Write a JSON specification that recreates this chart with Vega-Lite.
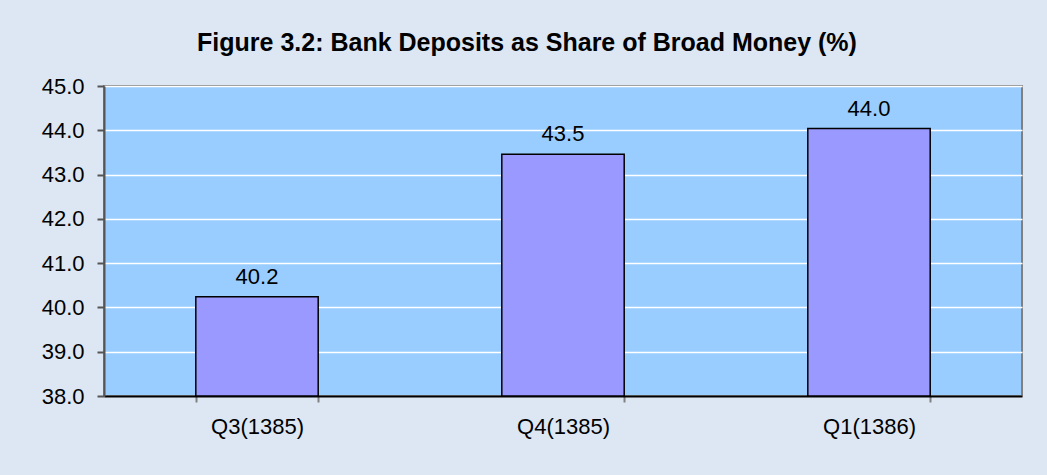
{
  "$schema": "https://vega.github.io/schema/vega-lite/v6.json",
  "autosize": {"type": "none"},
  "padding": {"left": 104, "top": 86, "right": 25, "bottom": 79},
  "width": 918,
  "height": 310,
  "background": "#dce7f3",
  "title": {
    "text": "Figure 3.2: Bank Deposits as Share of Broad Money (%)",
    "font": "Liberation Sans",
    "fontSize": 25,
    "fontWeight": "bold",
    "color": "#000000",
    "anchor": "middle",
    "frame": "group",
    "dx": -36,
    "offset": 19
  },
  "config": {
    "view": {"fill": "#99CCFF", "stroke": "#808080", "strokeWidth": 2},
    "axis": {"labelFont": "Liberation Sans", "labelColor": "#000000"}
  },
  "data": {
    "values": [
      {"quarter": "Q3(1385)", "share": 40.24},
      {"quarter": "Q4(1385)", "share": 43.46},
      {"quarter": "Q1(1386)", "share": 44.04}
    ]
  },
  "encoding": {
    "x": {
      "field": "quarter",
      "type": "nominal",
      "sort": null,
      "scale": {"paddingInner": 0.6, "paddingOuter": 0.3},
      "axis": {
        "title": null,
        "labelAngle": 0,
        "labelFontSize": 22,
        "labelPadding": 14,
        "tickBand": "extent",
        "tickSize": 6,
        "tickColor": "#808080",
        "tickWidth": 2,
        "domainColor": "#000000",
        "domainWidth": 2
      }
    },
    "y": {
      "field": "share",
      "type": "quantitative",
      "scale": {"domain": [38, 45], "zero": false, "nice": false},
      "axis": {
        "title": null,
        "values": [38, 39, 40, 41, 42, 43, 44, 45],
        "format": ".1f",
        "labelFontSize": 22,
        "labelPadding": 13,
        "tickSize": 7,
        "tickColor": "#555555",
        "tickWidth": 2,
        "domainColor": "#555555",
        "domainWidth": 2,
        "grid": true,
        "gridColor": "#FFFFFF",
        "gridWidth": 1.5,
        "gridOpacity": 1
      }
    }
  },
  "layer": [
    {
      "mark": {"type": "bar", "fill": "#9999FF", "stroke": "#000000", "strokeWidth": 1.5},
      "encoding": {"y2": {"datum": 38}}
    },
    {
      "mark": {"type": "text", "font": "Liberation Sans", "fontSize": 22, "color": "#000000", "baseline": "alphabetic", "dy": -13},
      "encoding": {
        "text": {"field": "share", "type": "quantitative", "format": ".1f"}
      }
    }
  ]
}
